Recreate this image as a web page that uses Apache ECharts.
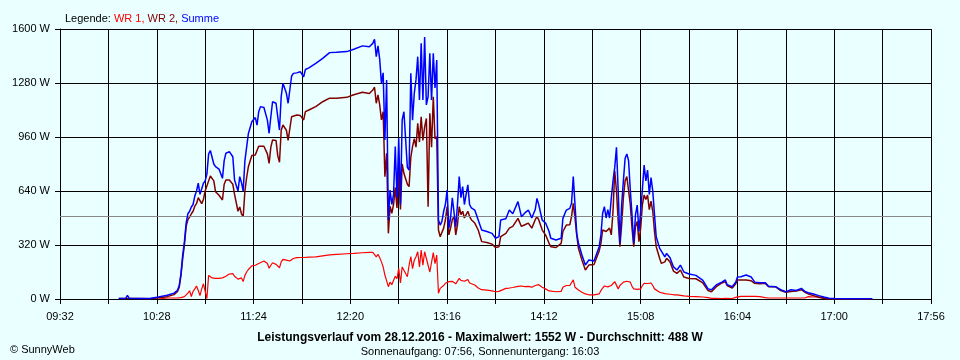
<!DOCTYPE html>
<html>
<head>
<meta charset="utf-8">
<script src="https://cdn.jsdelivr.net/npm/echarts@6/dist/echarts.min.js"></script>
<style>
html,body{margin:0;padding:0;background:#EAFFFF;}
#c{width:960px;height:360px;}
</style>
</head>
<body>
<div id="c"></div>
<script>
// ---- data ----
var times = ["10:06","10:10","10:11","10:12","10:17","10:24","10:29","10:34","10:38","10:40","10:41","10:42","10:43","10:44","10:45","10:46","10:47","10:48","10:49","10:50","10:51","10:52","10:53","10:54","10:55","10:56","10:57","10:58","10:59","11:00","11:01","11:02","11:04","11:06","11:07","11:08","11:10","11:12","11:13","11:15","11:16","11:17","11:18","11:19","11:20","11:21","11:23","11:25","11:26","11:27","11:28","11:30","11:32","11:33","11:34","11:35","11:37","11:38","11:39","11:40","11:41","11:43","11:44","11:45","11:46","11:47","11:49","11:51","11:53","11:54","11:56","12:00","12:04","12:08","12:12","12:18","12:22","12:27","12:31","12:33","12:34","12:35","12:36","12:37","12:38","12:39","12:40","12:41","12:42","12:43","12:44","12:45","12:46","12:47","12:48","12:49","12:50","12:51","12:53","12:54","12:55","12:56","12:57","12:58","12:59","13:00","13:01","13:02","13:03","13:04","13:05","13:06","13:07","13:08","13:09","13:10","13:11","13:12","13:13","13:14","13:15","13:16","13:17","13:18","13:19","13:20","13:21","13:22","13:23","13:24","13:25","13:26","13:27","13:28","13:29","13:30","13:32","13:34","13:36","13:39","13:42","13:44","13:46","13:47","13:50","13:52","13:54","13:57","13:59","14:01","14:03","14:05","14:07","14:08","14:09","14:11","14:13","14:15","14:16","14:19","14:22","14:23","14:25","14:27","14:28","14:29","14:30","14:31","14:32","14:34","14:36","14:38","14:41","14:44","14:45","14:46","14:47","14:48","14:49","14:50","14:51","14:52","14:53","14:54","14:55","14:56","14:57","14:58","14:59","15:00","15:01","15:02","15:03","15:04","15:05","15:06","15:07","15:08","15:09","15:10","15:11","15:12","15:13","15:14","15:15","15:16","15:17","15:19","15:20","15:22","15:23","15:25","15:27","15:29","15:31","15:33","15:36","15:40","15:44","15:47","15:49","15:52","15:55","15:57","15:58","16:01","16:03","16:04","16:06","16:09","16:12","16:14","16:17","16:20","16:22","16:26","16:29","16:32","16:35","16:38","16:41","16:43","16:45","16:48","16:51","16:54","16:57","17:00","17:04","17:17","17:22"];

var summe = [3,3,22,5,3,3,12,22,35,52,80,150,260,340,450,505,520,545,560,610,640,686,620,630,686,700,740,860,880,883,800,784,770,715,820,864,873,843,705,640,725,690,640,820,900,980,1050,1075,1030,1110,1140,1135,1060,982,1080,1169,1160,1080,1001,1200,1278,1219,1160,1150,1320,1337,1340,1347,1317,1360,1370,1396,1426,1460,1462,1466,1480,1500,1495,1515,1539,1436,1500,1420,1278,1340,942,1298,468,646,560,620,903,600,952,560,1061,1110,780,764,1337,1060,1219,1300,1436,1180,1515,1180,1552,1150,1200,1456,1180,1456,1250,1416,468,438,460,520,560,646,420,480,600,600,428,560,725,600,666,560,620,676,560,540,527,468,409,400,389,360,370,468,475,527,505,577,488,510,527,480,530,596,560,468,450,400,360,350,360,478,527,537,567,725,560,389,330,261,201,231,225,310,380,508,547,480,530,480,596,700,780,899,640,330,560,700,834,859,820,646,498,330,498,557,400,520,650,794,700,764,620,720,640,500,369,300,290,250,270,245,190,172,201,160,148,140,110,60,55,85,100,113,85,73,100,130,132,142,130,100,97,97,75,73,55,43,55,50,63,45,37,30,20,12,5,3,2,1,1];

var wr2 = [3,3,3,3,3,2,8,14,26,45,70,140,240,320,430,470,485,505,520,550,565,600,590,565,590,640,650,700,729,729,700,636,615,587,680,705,705,680,620,520,545,505,488,640,720,784,850,853,880,905,910,905,860,804,900,942,940,850,810,1000,1031,1000,940,932,1080,1090,1090,1088,1061,1110,1120,1140,1169,1190,1190,1195,1210,1225,1218,1238,1255,1160,1210,1150,1061,1110,725,864,389,550,508,560,660,540,764,530,800,745,680,666,840,903,950,900,1041,930,1080,940,1020,1070,547,1100,900,1199,950,962,409,369,380,420,468,547,380,420,470,488,380,440,547,500,520,480,500,520,490,470,450,409,340,335,325,305,310,369,389,420,430,478,430,440,450,420,470,488,470,410,379,330,310,305,330,400,438,440,488,567,480,380,300,231,172,201,205,285,330,409,420,400,390,420,380,520,760,640,460,310,440,600,700,725,720,560,420,310,430,460,340,420,560,616,590,616,530,580,520,400,310,240,211,220,241,220,165,152,172,130,122,120,95,50,43,75,95,103,80,65,90,113,113,113,108,93,90,93,73,73,50,40,45,48,55,40,30,20,10,3,0,0,0,0,0];

var wr1 = [null,null,null,null,null,null,0,6,6,6,6,8,10,14,18,35,49,15,45,60,77,50,20,60,90,100,3,140,135,125,122,122,122,125,128,135,148,150,135,118,115,125,103,140,160,175,196,200,205,210,220,225,210,182,200,215,205,195,185,220,235,230,222,225,235,240,245,246,246,247,248,250,256,262,265,268,270,274,276,276,278,250,265,245,220,190,142,150,73,100,85,110,135,120,182,95,190,180,132,200,251,180,230,250,280,190,290,200,280,240,200,160,152,275,210,260,34,63,70,80,93,100,103,95,105,113,90,100,122,110,100,105,110,115,95,90,83,65,55,53,48,43,45,55,63,65,68,75,77,73,75,70,80,89,85,70,60,48,43,43,45,70,80,80,90,113,70,60,53,40,30,25,24,30,50,65,77,75,72,78,80,90,103,100,60,80,90,100,107,105,105,100,75,60,58,57,55,60,80,93,90,92,90,95,80,60,55,40,34,32,30,28,25,24,22,18,15,14,12,8,4,4,3,4,3,3,10,14,16,16,16,16,14,8,6,6,6,6,6,6,6,6,14,12,12,8,3,0,0,0,0];

var yTicks = [0, 320, 640, 960, 1280, 1600];
var average = 488;
var xStart = "09:32";
var xEnd = "17:56";

// ---- helpers ----
function toMin(s){ var p = s.split(":"); return (+p[0])*60 + (+p[1]); }
function toHHMM(m){ var h = Math.floor(m/60), mm = m%60; return (h<10?"0":"")+h+":"+(mm<10?"0":"")+mm; }
var t0 = toMin(xStart), tEnd = toMin(xEnd);
function pairs(vals){
  var out = [];
  for (var i=0;i<times.length;i++){ if (vals[i] !== null && vals[i] !== undefined) out.push([toMin(times[i]) - t0, vals[i]]); }
  return out;
}

var FONT = "'Liberation Sans', Arial, sans-serif";
var chart = echarts.init(document.getElementById('c'), null, {renderer:'canvas'});
chart.setOption({
  backgroundColor: '#EAFFFF',
  animation: false,
  title: [
    { left: 60, top: 8, text: '{k|Legende: }{r|WR 1, }{d|WR 2, }{b|Summe}',
      textStyle: { fontFamily: FONT, fontSize: 11, fontWeight: 'normal',
        rich: { k:{color:'#000',fontFamily:FONT,fontSize:11}, r:{color:'#FF0000',fontFamily:FONT,fontSize:11},
                d:{color:'#800000',fontFamily:FONT,fontSize:11}, b:{color:'#0000FF',fontFamily:FONT,fontSize:11} } } },
    { left: 'center', top: 327, text: 'Leistungsverlauf vom 28.12.2016 - Maximalwert: 1552 W - Durchschnitt: 488 W',
      textStyle: { fontFamily: FONT, fontSize: 12, fontWeight: 'bold', color:'#000' } },
    { left: 'center', top: 341, text: 'Sonnenaufgang: 07:56, Sonnenuntergang: 16:03',
      textStyle: { fontFamily: FONT, fontSize: 11, fontWeight: 'normal', color:'#000' } },
    { left: 5, top: 339, text: '\u00A9 SunnyWeb',
      textStyle: { fontFamily: FONT, fontSize: 11, fontWeight: 'normal', color:'#000' } }
  ],
  grid: { left: 60, right: 29, top: 29, bottom: 61, containLabel: false },
  xAxis: {
    type: 'value', min: 0, max: tEnd - t0, interval: 28,
    axisLine: { show: true, lineStyle: { color: '#000', width: 1 } },
    axisTick: { show: true, length: 5, lineStyle: { color: '#000' } },
    splitLine: { show: true, lineStyle: { color: '#000', width: 1 } },
    axisLabel: { color: '#000', fontFamily: FONT, fontSize: 11, margin: 12,
      formatter: function(v){ return (v % 56 === 0) ? toHHMM(t0 + v) : ''; } }
  },
  yAxis: {
    type: 'value', min: yTicks[0], max: yTicks[yTicks.length-1], interval: yTicks[1]-yTicks[0],
    axisLine: { show: true, lineStyle: { color: '#000', width: 1 } },
    axisTick: { show: true, length: 5, lineStyle: { color: '#000' } },
    splitLine: { show: true, lineStyle: { color: '#000', width: 1 } },
    axisLabel: { color: '#000', fontFamily: FONT, fontSize: 11, margin: 10,
      formatter: function(v){ return v + ' W'; } }
  },
  series: [
    { name: 'WR 1', type: 'line', data: pairs(wr1), showSymbol: false, symbol: 'none',
      lineStyle: { color: '#FF0000', width: 1.2 }, itemStyle:{color:'#FF0000'}, z: 3,
      markLine: { silent: true, symbol: ['none','none'], label: { show: false },
        lineStyle: { color: '#888888', width: 1, type: 'solid' }, data: [{ yAxis: average }] } },
    { name: 'WR 2', type: 'line', data: pairs(wr2), showSymbol: false, symbol: 'none',
      lineStyle: { color: '#800000', width: 1.5 }, itemStyle:{color:'#800000'}, z: 4 },
    { name: 'Summe', type: 'line', data: pairs(summe), showSymbol: false, symbol: 'none',
      lineStyle: { color: '#0000FF', width: 1.5 }, itemStyle:{color:'#0000FF'}, z: 5 }
  ]
});
</script>
</body>
</html>
